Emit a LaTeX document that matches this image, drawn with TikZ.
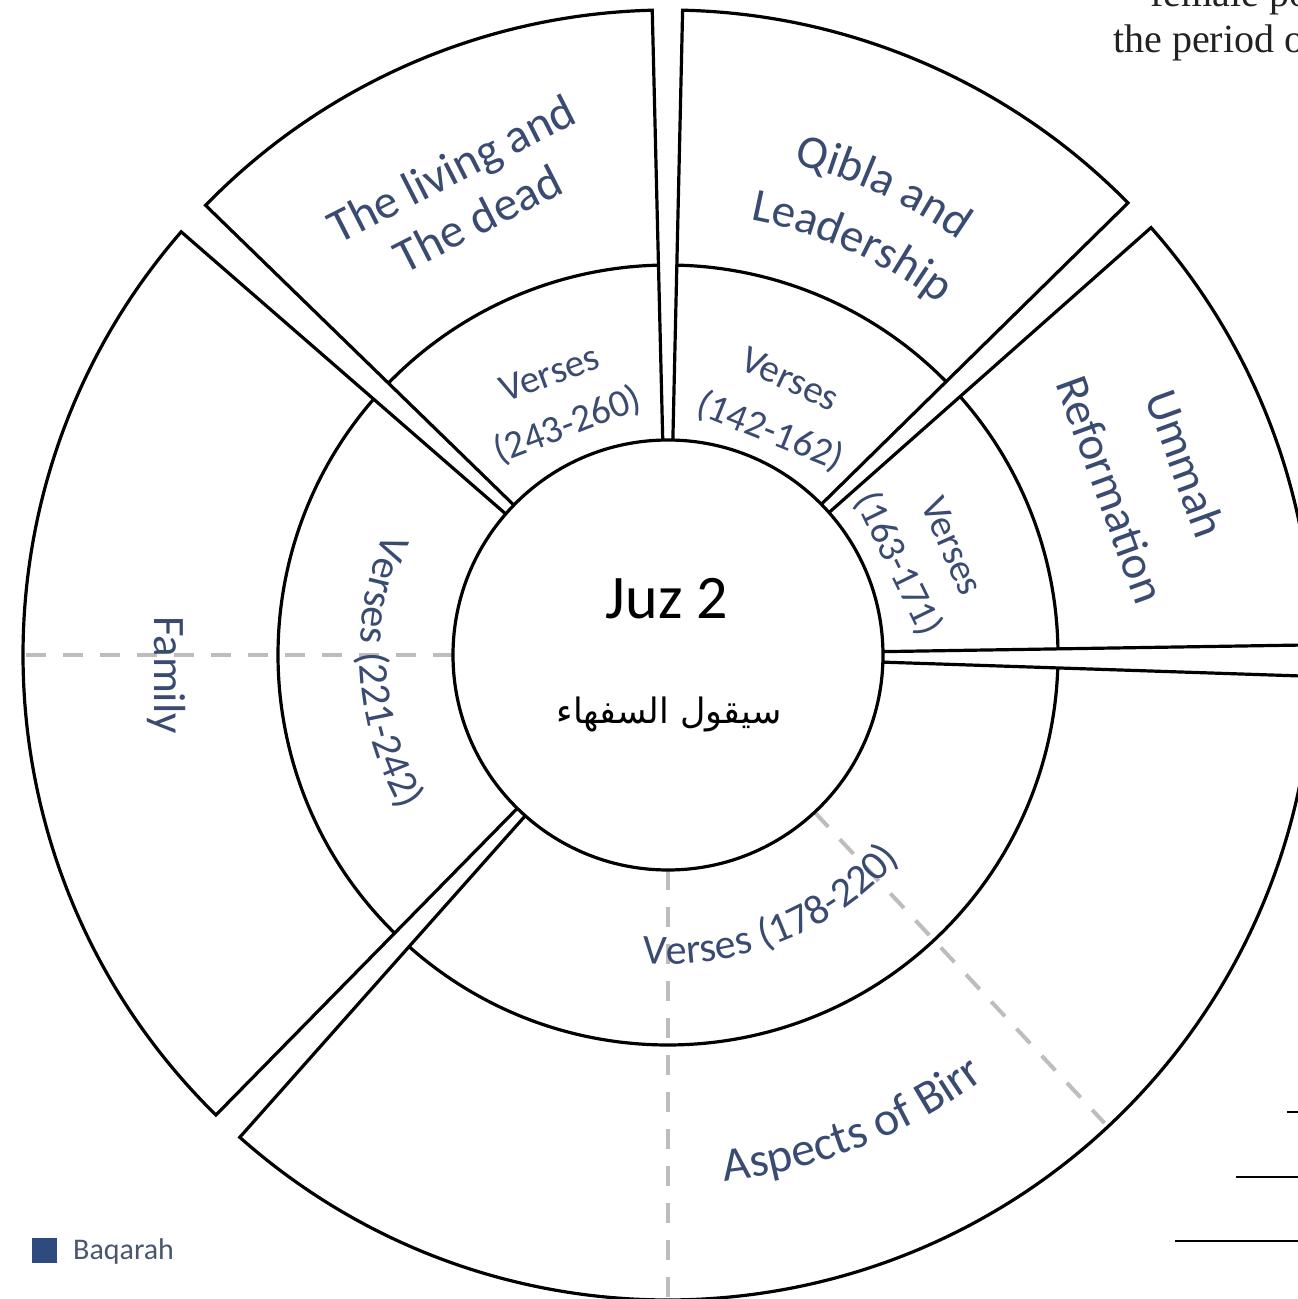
\documentclass[tikz,border=0pt]{standalone}
\usepackage{fontspec}
\usetikzlibrary{decorations.text}
\newfontfamily\calibri{Carlito}
\newfontfamily\arabicfont[Script=Arabic]{DejaVu Sans}
\newfontfamily\pageserif{Liberation Serif}
\TeXXeTstate=1
\definecolor{lblblue}{HTML}{3A4B72}
\definecolor{legendblue}{HTML}{2F4A7E}
\definecolor{baqgray}{HTML}{4B566E}
\definecolor{guidegray}{HTML}{BDBDBD}
\definecolor{pagetext}{HTML}{222222}
\begin{document}
\begin{tikzpicture}[x=1pt,y=1pt,
  ring/.style={draw=black, line width=3.2pt, line join=miter},
  guide/.style={draw=guidegray, line width=4pt, dash pattern=on 20pt off 17pt},
  txt/.style={text=lblblue, inner sep=0pt, text height=0.64em, text depth=0.19em, anchor=center},
  outerfont/.style={font=\calibri\fontsize{47}{50}\selectfont},
  versefont/.style={font=\calibri\fontsize{39}{42}\selectfont},
  rule/.style={draw=black, line width=2pt}]
\useasboundingbox (-668,-644) rectangle (630,655);

% grey guide lines (under the outlines)
\draw[guide] (180:215pt) -- (180:643pt);
\draw[guide] (270:215pt) -- (270:642pt);
\draw[guide] (-47:215pt) -- (-47:640pt);

% exploded ring sectors: start/end angles
\foreach \a/\b in {0.9/41.5, 44.5/88.7, 91.4/135.8, 139/225.5, 228.4/358.1}{
  \draw[ring] (\a:215pt) -- (\a:645pt) arc[start angle=\a, end angle=\b, radius=645pt] -- (\b:215pt);
  \draw[ring] (\a:390pt) arc[start angle=\a, end angle=\b, radius=390pt];
}
% centre disc
\draw[ring] (0,0) circle[radius=215pt];

% centre titles
\node[inner sep=0pt, anchor=base, font=\calibri\fontsize{62}{66}\selectfont] (juz) at (-1,37) {Juz 2};
\node[inner sep=0pt, anchor=base, font=\arabicfont\fontsize{35}{40}\selectfont] (sura) at (1,-68) {\beginR سيقول السفهاء\endR};

% outer ring labels
\node[txt, font=\calibri\fontsize{48}{52}\selectfont, rotate=27] (liv1) at (-210,474) {The living and};
\node[txt, font=\calibri\fontsize{48}{52}\selectfont, rotate=27] (liv2) at (-184,424) {The dead};
\path[decorate, decoration={text along path, text align=center, text color=lblblue,
  text={|\calibri\fontsize{47}{50}\selectfont|Qibla and}}]
  (105.3:507pt) arc[start angle=105.3, end angle=25.3, radius=507pt];
\path[decorate, decoration={text along path, text align=center, text color=lblblue,
  text={|\calibri\fontsize{47}{50}\selectfont|Leadership}}]
  (105.8:443pt) arc[start angle=105.8, end angle=25.8, radius=443pt];
\node[txt, outerfont, rotate=-70] (umm1) at (505,187) {Ummah};
\node[txt, outerfont, rotate=-70] (umm2) at (430,161) {Reformation};
\node[txt, font=\calibri\fontsize{45}{48}\selectfont, rotate=-90] (fam) at (-511,-20) {Family};
\path[decorate, decoration={text along path, text align=center, text color=lblblue,
  text={|\calibri\fontsize{48}{50}\selectfont|Aspects of Birr}}]
  (-108.5:529pt) arc[start angle=-108.5, end angle=-28.5, radius=529pt];

% middle ring labels
\node[txt, versefont, rotate=20] (v243a) at (-115,272) {Verses};
\node[txt, versefont, rotate=21] (v243b) at (-97,221) {(243-260)};
\node[txt, versefont, rotate=-25] (v142a) at (118,267) {Verses};
\node[txt, versefont, rotate=-22] (v142b) at (99,215) {(142-162)};
\node[txt, versefont, rotate=-66] (v163a) at (275,105) {Verses};
\node[txt, versefont, rotate=-64] (v163b) at (222,87) {(163-171)};
\path[decorate, decoration={text along path, text align=center, text color=lblblue,
  text={|\calibri\fontsize{42}{44}\selectfont|Verses (221-242)}}]
  (143.5:308pt) arc[start angle=143.5, end angle=223.5, radius=308pt];
\path[decorate, decoration={text along path, text align=center, text color=lblblue,
  text={|\calibri\fontsize{42}{44}\selectfont|Verses (178-220)}}]
  (-108:309pt) arc[start angle=-108, end angle=-28, radius=309pt];

% legend
\fill[legendblue] (-636,-608) rectangle (-611,-583);
\node[anchor=west, inner sep=0pt, font=\calibri\fontsize{30}{32}\selectfont, text=baqgray] (legtext) at (-595,-596) {Baqarah};

% surrounding page text and table rules
\node[anchor=base west, inner sep=0pt, font=\pageserif\fontsize{40}{44}\selectfont, text=pagetext] (pagea) at (482,648) {female po};
\node[anchor=base west, inner sep=0pt, font=\pageserif\fontsize{40}{44}\selectfont, text=pagetext] (pageb) at (445,602) {the period o};
\draw[rule] (619,-457) -- (630,-457);
\draw[rule] (568,-522) -- (630,-522);
\draw[rule] (507,-586) -- (630,-586);
\end{tikzpicture}
\end{document}
